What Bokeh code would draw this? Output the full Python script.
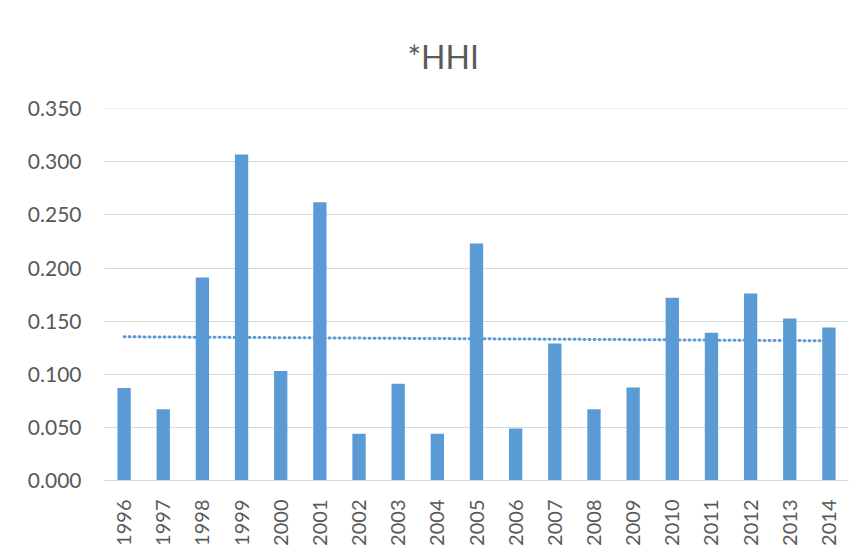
import numpy as np
from bokeh.plotting import figure
from bokeh.models import ColumnDataSource, Range1d, FactorRange, SingleIntervalTicker, NumeralTickFormatter
from bokeh.embed import file_html
from bokeh.resources import INLINE

title_text = "*HHI"
years = ["1996", "1997", "1998", "1999", "2000", "2001", "2002", "2003", "2004", "2005",
         "2006", "2007", "2008", "2009", "2010", "2011", "2012", "2013", "2014"]
hhi = [0.087, 0.067, 0.191, 0.307, 0.103, 0.262, 0.044, 0.091, 0.044, 0.223,
       0.049, 0.129, 0.067, 0.0875, 0.172, 0.139, 0.176, 0.1525, 0.144]

# linear trendline (least squares) computed from the series
idx = np.arange(len(hhi))
slope, intercept = np.polyfit(idx, np.array(hhi), 1)
trend = list(intercept + slope * idx)

FONT = "Lato"
TXT = "#595959"
GRID = "#d9d9d9"
BAR = "#5b9bd5"

p = figure(x_range=FactorRange(*years), y_range=Range1d(0, 0.3502),
           width=858, height=556, output_backend="svg", toolbar_location=None,
           min_border_left=104, min_border_right=10, min_border_top=108, min_border_bottom=76)

src = ColumnDataSource(dict(x=years, y=hhi, t=trend))
p.vbar(x="x", top="y", width=0.34, source=src, fill_color=BAR, line_color=None)
p.line(x="x", y="t", source=src, line_color=BAR, line_width=3, line_dash="1 4", line_cap="round")

p.title.text = title_text
p.title.text_font = FONT
p.title.text_font_size = "32px"
p.title.text_font_style = "normal"
p.title.text_color = TXT
p.title.align = "left"
p.title.offset = 303
p.title.standoff = 66

p.outline_line_color = None
p.xgrid.grid_line_color = None
p.ygrid.grid_line_color = GRID
p.ygrid.grid_line_width = 1
p.yaxis.ticker = SingleIntervalTicker(interval=0.05)
p.yaxis.formatter = NumeralTickFormatter(format="0.000")
p.yaxis.axis_line_color = None
p.yaxis.major_tick_line_color = None
p.yaxis.minor_tick_line_color = None
p.yaxis.major_label_standoff = 17
p.xaxis.axis_line_color = GRID
p.xaxis.major_tick_line_color = None
p.xaxis.minor_tick_line_color = None
p.xaxis.major_label_orientation = np.pi / 2
p.xaxis.major_label_standoff = 13
p.yaxis.major_label_text_font_size = "21px"
p.xaxis.major_label_text_font_size = "20px"
for ax in (p.xaxis, p.yaxis):
    ax.major_label_text_font = FONT
    ax.major_label_text_color = TXT

open("out.html", "w").write(file_html(p, INLINE))
